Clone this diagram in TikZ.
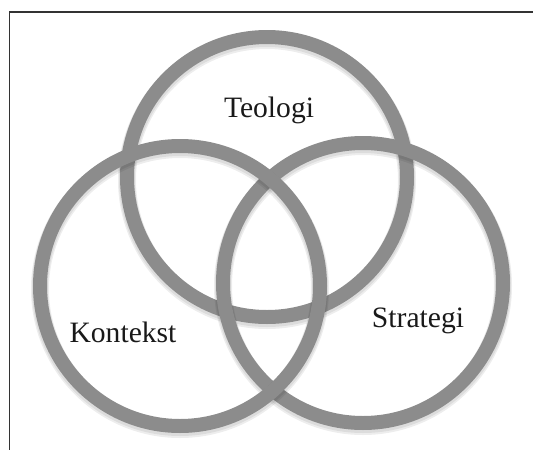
\documentclass[tikz,border=0pt]{standalone}
\usepackage{fontspec}
\setmainfont{Liberation Serif}
\begin{document}
\begin{tikzpicture}[x=1pt,y=-1pt,
  ring/.style={circle,draw=ringgray,line width=14pt,minimum size=280pt,inner sep=0pt},
  ringshadow/.style={circle,draw=black,draw opacity=0.07,line width=18pt,minimum size=280pt,inner sep=0pt},
  label/.style={font=\fontsize{29.6pt}{32pt}\selectfont,anchor=base,inner sep=0pt,text=black!90},
  frame/.style={draw=black!80,line width=1.5pt}]
\definecolor{ringgray}{HTML}{8C8C8C}
\useasboundingbox (0,0) rectangle (533,450);
\coordinate (ftr) at (533,12);
\coordinate (ftl) at (9.5,12);
\coordinate (fbl) at (9.5,450);
\draw[frame] (ftr) -- (ftl) -- (fbl);
% top circle
\node[ringshadow] (sT) at (267,180) {};
\node[ringshadow,line width=16pt] (sT2) at (267,179) {};
\node[ring] (teo) at (267,177) {};
% right circle
\node[ringshadow] (sS) at (363,286) {};
\node[ringshadow,line width=16pt] (sS2) at (363,285) {};
\node[ring] (str) at (363,283) {};
% left circle
\node[ringshadow] (sK) at (180,289) {};
\node[ringshadow,line width=16pt] (sK2) at (180,288) {};
\node[ring] (kon) at (180,286) {};
% labels
\node[label] (tTeo) at (269,117) {Teologi};
\node[label] (tKon) at (123,342) {Kontekst};
\node[label] (tStr) at (418,327) {Strategi};
\end{tikzpicture}
\end{document}
